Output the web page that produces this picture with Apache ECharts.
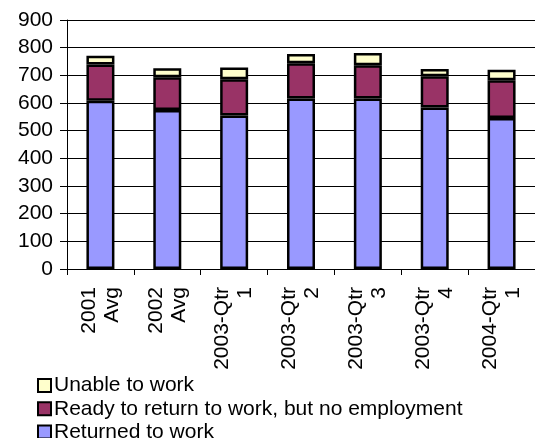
<!DOCTYPE html>
<html>
<head>
<meta charset="utf-8">
<script src="https://cdn.jsdelivr.net/npm/echarts@6/dist/echarts.min.js"></script>
<style>
  html, body { margin: 0; padding: 0; background: #fff; }
  #chart { width: 535px; height: 438px; }
</style>
</head>
<body>
<div id="chart"></div>
<script>
const categories = ['2001\nAvg', '2002\nAvg', '2003-Qtr\n1', '2003-Qtr\n2', '2003-Qtr\n3', '2003-Qtr\n4', '2004-Qtr\n1']
const returnedToWork = [608, 575, 555, 616, 616, 584, 546]
const readyNoEmployment = [131, 118, 131, 128, 120, 113, 136]
const unableToWork = [32, 33, 42, 33, 45, 26, 38]
const yTicks = [0, 100, 200, 300, 400, 500, 600, 700, 800, 900]
const legendNames = ['Unable to work', 'Ready to return to work, but no employment', 'Returned to work']

const font = 'Arial, "Liberation Sans", sans-serif'

const barStyle = color => ({
  color: color,
  borderColor: '#000',
  borderWidth: 2.5
})

// one legend per row so they stack like the excel legend
const legends = legendNames.map((name, i) => ({
  orient: 'vertical',
  left: 37,
  top: 375 + i * 23.3,
  padding: 0,
  itemWidth: 13,
  itemHeight: 13,
  itemGap: 0,
  icon: 'rect',
  data: [name],
  selectedMode: false,
  textStyle: { fontFamily: font, fontSize: 21, lineHeight: 20, color: '#000', padding: [0, 0, 0, -2] },
  itemStyle: { borderColor: '#000', borderWidth: 2 }
}))

const chart = echarts.init(document.getElementById('chart'))
chart.setOption({
  animation: false,
  grid: {
    left: 67,
    right: -3,
    top: 20,
    bottom: 169
  },
  legend: legends,
  xAxis: {
    type: 'category',
    data: categories,
    axisLine: { lineStyle: { color: '#000', width: 1 } },
    axisTick: { show: true, length: 6, lineStyle: { color: '#000' } },
    axisLabel: {
      rotate: 90,
      margin: 18,
      fontFamily: font,
      fontSize: 21,
      lineHeight: 23,
      padding: [0, 0, 6, 0],
      color: '#000'
    }
  },
  yAxis: {
    type: 'value',
    min: yTicks[0],
    max: yTicks[yTicks.length - 1],
    interval: 100,
    axisLine: { show: true, lineStyle: { color: '#000', width: 1 } },
    axisTick: { show: true, length: 7, lineStyle: { color: '#000' } },
    axisLabel: { fontFamily: font, fontSize: 21, color: '#000', margin: 14 },
    splitLine: { lineStyle: { color: '#000', width: 1 } }
  },
  series: [
    {
      name: 'Returned to work',
      type: 'bar',
      stack: 'total',
      barWidth: 28,
      data: returnedToWork,
      itemStyle: barStyle('#9999FF')
    },
    {
      name: 'Ready to return to work, but no employment',
      type: 'bar',
      stack: 'total',
      data: readyNoEmployment,
      itemStyle: barStyle('#993366')
    },
    {
      name: 'Unable to work',
      type: 'bar',
      stack: 'total',
      data: unableToWork,
      itemStyle: barStyle('#FFFFCC')
    }
  ]
})
</script>
</body>
</html>
